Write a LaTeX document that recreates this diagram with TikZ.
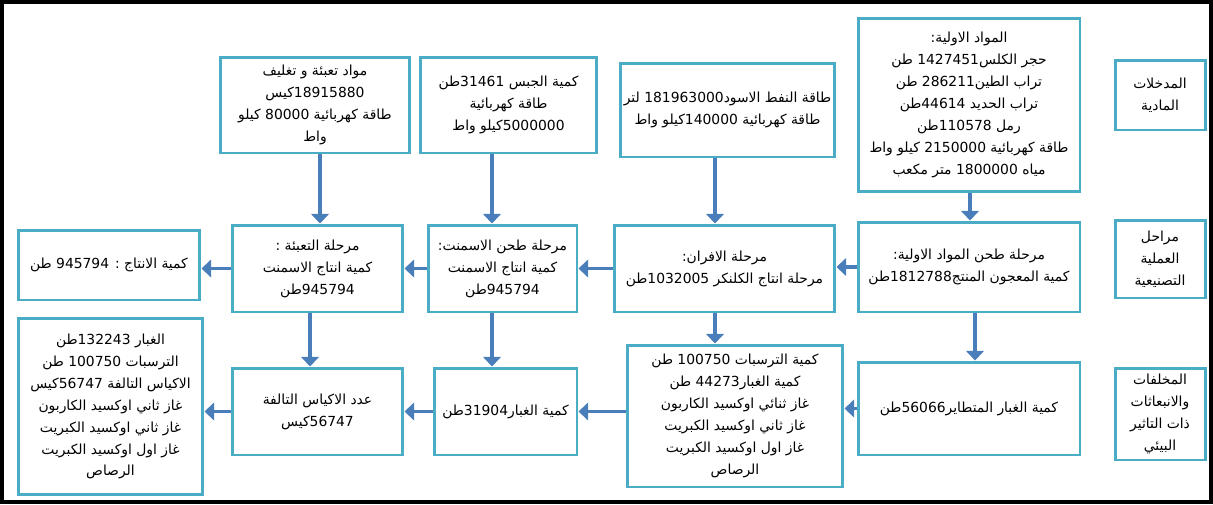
\documentclass[tikz,border=0pt]{standalone}
\usepackage{fontspec}
\TeXXeTstate=1
\newfontfamily\arabicfont[Script=Arabic]{DejaVu Sans}
\usetikzlibrary{arrows.meta}
\definecolor{boxc}{HTML}{4BACC6}
\definecolor{arrc}{HTML}{4A7EBB}
\newcommand\AR[1]{\beginR #1\endR}
\newcommand\NUM[1]{\beginL #1\endL}
\begin{document}
\begin{tikzpicture}[x=0.02cm,y=-0.02cm,
  bx/.style={draw=boxc,line width=1.7pt,fill=white,align=center,inner sep=2pt,
    font=\arabicfont\fontsize{7.9}{12.5}\selectfont},
  arr/.style={draw=arrc,line width=2.2pt,-{Triangle[length=5.5pt,width=10pt]}}]
\useasboundingbox (0,0) rectangle (1213,504);
\draw[line width=2.3pt] (2,2) rectangle (1211,502);
% row 1
\node[bx,minimum width=4.44cm,minimum height=3.48cm] (raw) at (969,105)
  {\AR{المواد الاولية:}\\\AR{حجر الكلس\NUM{1427451} طن}\\\AR{تراب الطين\NUM{286211} طن}\\\AR{تراب الحديد \NUM{44614}طن}\\\AR{رمل \NUM{110578}طن}\\\AR{طاقة كهربائية \NUM{2150000} كيلو واط}\\\AR{مياه \NUM{1800000} متر مكعب}};
\node[bx,minimum width=4.3cm,minimum height=1.88cm] (oil) at (727.5,110)
  {\AR{طاقة النفط الاسود\NUM{181963000} لتر}\\\AR{طاقة كهربائية \NUM{140000}كيلو واط}};
\node[bx,minimum width=3.54cm,minimum height=1.92cm] (gyp) at (508.5,105)
  {\AR{كمية الجبس \NUM{31461}طن}\\\AR{طاقة كهربائية}\\\AR{\NUM{5000000}كيلو واط}};
\node[bx,minimum width=3.8cm,minimum height=1.92cm] (pack) at (315,105)
  {\AR{مواد تعبئة و تغليف}\\\AR{\NUM{18915880}كيس}\\\AR{طاقة كهربائية \NUM{80000} كيلو}\\\AR{واط}};
\node[bx,minimum width=1.8cm,minimum height=1.4cm] (lab1) at (1160,95)
  {\AR{المدخلات}\\\AR{المادية}};
% row 2
\node[bx,minimum width=4.44cm,minimum height=1.8cm] (rg) at (969,267)
  {\AR{مرحلة طحن المواد الاولية:}\\\AR{كمية المعجون المنتج\NUM{1812788}طن}};
\node[bx,minimum width=4.42cm,minimum height=1.74cm] (kiln) at (724.5,268.5)
  {\AR{مرحلة الافران:}\\\AR{مرحلة انتاج الكلنكر \NUM{1032005}طن}};
\node[bx,minimum width=2.98cm,minimum height=1.74cm] (cg) at (502.5,268.5)
  {\AR{مرحلة طحن الاسمنت:}\\\AR{كمية انتاج الاسمنت}\\\AR{\NUM{945794}طن}};
\node[bx,minimum width=3.42cm,minimum height=1.74cm] (ps) at (317.5,268.5)
  {\AR{مرحلة التعبئة :}\\\AR{كمية انتاج الاسمنت}\\\AR{\NUM{945794}طن}};
\node[bx,minimum width=3.64cm,minimum height=1.4cm] (prod) at (109,265)
  {\AR{كمية الانتاج : \NUM{945794} طن}};
\node[bx,minimum width=1.8cm,minimum height=1.56cm] (lab2) at (1160,259)
  {\AR{مراحل}\\\AR{العملية}\\\AR{التصنيعية}};
% row 3
\node[bx,minimum width=4.44cm,minimum height=1.86cm] (dust) at (969,408.5)
  {\AR{كمية الغبار المتطاير\NUM{56066}طن}};
\node[bx,minimum width=4.32cm,minimum height=2.84cm] (kem) at (735,416)
  {\AR{كمية الترسبات \NUM{100750} طن}\\\AR{كمية الغبار\NUM{44273} طن}\\\AR{غاز ثنائي اوكسيد الكاربون}\\\AR{غاز ثاني اوكسيد الكبريت}\\\AR{غاز اول اوكسيد الكبريت}\\\AR{الرصاص}};
\node[bx,minimum width=2.86cm,minimum height=1.74cm] (cd) at (505.5,411.5)
  {\AR{كمية الغبار\NUM{31904}طن}};
\node[bx,minimum width=3.42cm,minimum height=1.74cm] (db) at (317.5,411.5)
  {\AR{عدد الاكياس التالفة}\\\AR{\NUM{56747}كيس}};
\node[bx,minimum width=3.7cm,minimum height=3.54cm] (tot) at (110.5,406.5)
  {\AR{الغبار \NUM{132243}طن}\\\AR{الترسبات \NUM{100750} طن}\\\AR{الاكياس التالفة \NUM{56747}كيس}\\\AR{غاز ثاني اوكسيد الكاربون}\\\AR{غاز ثاني اوكسيد الكبريت}\\\AR{غاز اول اوكسيد الكبريت}\\\AR{الرصاص}};
\node[bx,minimum width=1.8cm,minimum height=1.84cm] (lab3) at (1160,414)
  {\AR{المخلفات}\\\AR{والانبعاثات}\\\AR{ذات التاثير}\\\AR{البيئي}};
% arrow columns
\coordinate (c1) at (970,0);
\coordinate (c2) at (715,0);
\coordinate (c3) at (492,0);
\coordinate (c4) at (320,0);
\coordinate (c5) at (975,0);
\coordinate (c6) at (310,0);
% vertical arrows
\draw[arr] (raw.south -| c1) -- (rg.north -| c1);
\draw[arr] (oil.south -| c2) -- (kiln.north -| c2);
\draw[arr] (gyp.south -| c3) -- (cg.north -| c3);
\draw[arr] (pack.south -| c4) -- (ps.north -| c4);
\draw[arr] (rg.south -| c5) -- (dust.north -| c5);
\draw[arr] (kiln.south -| c2) -- (kem.north -| c2);
\draw[arr] (cg.south -| c3) -- (cd.north -| c3);
\draw[arr] (ps.south -| c6) -- (db.north -| c6);
% horizontal arrows
\draw[arr] (rg.west) -- (rg.west -| kiln.east);
\draw[arr] (kiln.west) -- (kiln.west -| cg.east);
\draw[arr] (cg.west) -- (cg.west -| ps.east);
\draw[arr] (ps.west) -- (ps.west -| prod.east);
\draw[arr] (dust.west) -- (dust.west -| kem.east);
\draw[arr] (kem.west |- cd.east) -- (cd.east);
\draw[arr] (cd.west) -- (cd.west -| db.east);
\draw[arr] (db.west) -- (db.west -| tot.east);
\end{tikzpicture}
\end{document}
